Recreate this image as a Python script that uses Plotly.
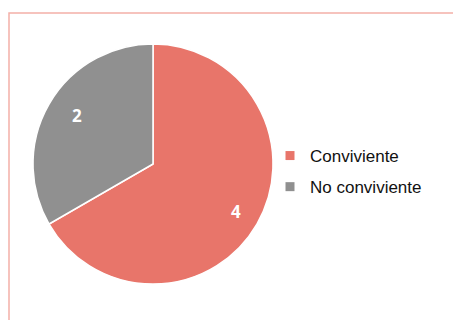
import math
import plotly.graph_objects as go

# datos
categorias = ['Conviviente', 'No conviviente']
valores = [4, 2]
colores = ['#E8756A', '#909090']

# geometria del pastel (px)
W, H = 453, 320
cx, cy, r = 153, 164, 120

fig = go.Figure()
fig.add_trace(go.Pie(
    labels=categorias,
    values=valores,
    sort=False,
    direction='clockwise',
    rotation=0,
    marker=dict(colors=colores, line=dict(color='white', width=1.5)),
    textinfo='none',
    showlegend=False,
    domain=dict(x=[(cx - r) / W, (cx + r) / W], y=[(H - cy - r) / H, (H - cy + r) / H]),
    hoverinfo='label+value+percent',
))

# etiquetas de valor, colocadas en el angulo medio de cada porcion
total = sum(valores)
acum = 0
for v in valores:
    mid = (acum + v / 2) / total * 2 * math.pi
    acum += v
    px_ = cx + 0.8 * r * math.sin(mid)
    py_ = cy - 0.8 * r * math.cos(mid)
    fig.add_annotation(x=px_ / W, y=1 - py_ / H, xref='paper', yref='paper',
                       text=str(v), showarrow=False,
                       font=dict(family='Open Sans', size=17, color='white', weight='bold'))

# leyenda con marcadores cuadrados
for cat, col in zip(categorias, colores):
    fig.add_trace(go.Scatter(x=[None], y=[None], mode='markers', name=cat, legendgroup=cat,
                             marker=dict(symbol='square', size=9, color=col)))

# marco rosado
fig.add_shape(type='rect', xref='paper', yref='paper',
              x0=9 / W, y0=-0.1, x1=1.1, y1=(H - 13) / H,
              line=dict(color='#F4B0A8', width=1.5), fillcolor='rgba(0,0,0,0)')

fig.update_layout(
    width=W, height=H,
    margin=dict(l=0, r=0, t=0, b=0),
    paper_bgcolor='white', plot_bgcolor='white',
    xaxis=dict(visible=False), yaxis=dict(visible=False),
    showlegend=True,
    legend=dict(x=(310 - 40) / W, y=1 - 171.5 / H, xanchor='left', yanchor='middle',
                font=dict(family='Liberation Sans', size=17, color='#111'),
                tracegroupgap=6, bgcolor='rgba(0,0,0,0)'),
)

fig.write_html('out.html', config={'displayModeBar': False},
               post_script="document.body.style.margin='0';")
